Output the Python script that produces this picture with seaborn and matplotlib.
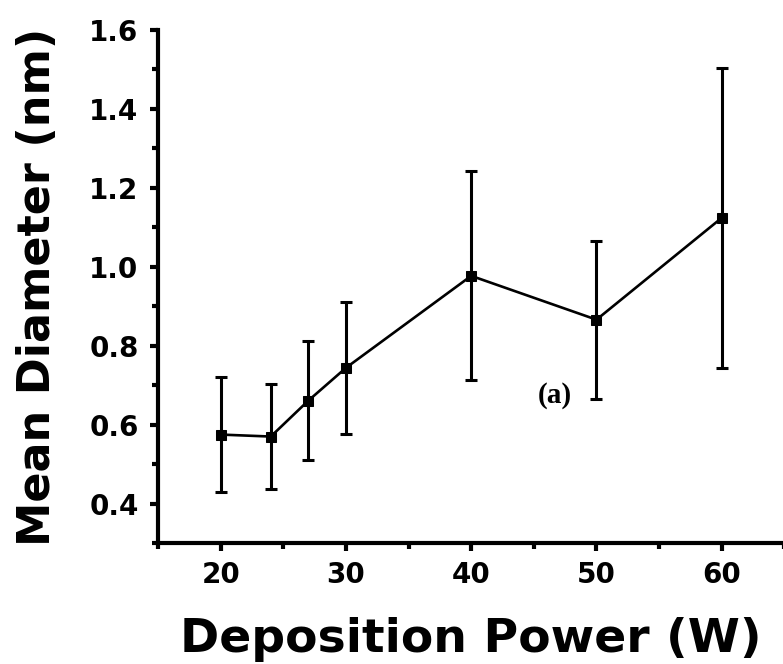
import matplotlib
matplotlib.use("Agg")
import matplotlib.pyplot as plt
import seaborn as sns
import pandas as pd
from matplotlib.ticker import MultipleLocator

power = [20, 24, 27, 30, 40, 50, 60]
diameter = [0.575, 0.570, 0.661, 0.744, 0.977, 0.866, 1.124]
err = [0.145, 0.132, 0.150, 0.168, 0.265, 0.200, 0.380]
xticks = [20, 30, 40, 50, 60]
yticks = [0.4, 0.6, 0.8, 1.0, 1.2, 1.4, 1.6]
yticklabels = ["0.4", "0.6", "0.8", "1.0", "1.2", "1.4", "1.6"]

df = pd.DataFrame({"power": power, "diameter": diameter, "err": err})

sns.set_theme(style="ticks")
plt.rcParams['font.family'] = ['DejaVu Sans']
plt.rcParams.update({'text.color': 'black', 'axes.labelcolor': 'black',
                     'xtick.color': 'black', 'ytick.color': 'black'})

fig = plt.figure(figsize=(7.83, 6.64), dpi=100)
ax = fig.add_axes([0.2018, 0.182, 0.80, 0.773])

ax.errorbar(df["power"], df["diameter"], yerr=df["err"], fmt='none',
            ecolor='black', elinewidth=2.2, capsize=4.5, capthick=2.2, zorder=2)
sns.lineplot(data=df, x="power", y="diameter", ax=ax, color='black',
             marker='s', markersize=7, linewidth=1.9, markeredgecolor='black', zorder=3)

ax.set_xlim(15, 65)
ax.set_ylim(0.3, 1.6)
ax.xaxis.set_minor_locator(MultipleLocator(5))
ax.yaxis.set_minor_locator(MultipleLocator(0.1))
ax.set_xticks(xticks)
ax.set_yticks(yticks)
ax.set_yticklabels(yticklabels)

for s in ['top', 'right']:
    ax.spines[s].set_visible(False)
for s in ['left', 'bottom']:
    ax.spines[s].set_linewidth(3)
    ax.spines[s].set_color('black')

ax.tick_params(which='major', direction='out', length=6, width=3, labelsize=20)
ax.tick_params(axis='x', which='major', pad=7)
ax.tick_params(axis='y', which='major', pad=8)
ax.tick_params(which='minor', direction='out', length=4, width=3)
for lab in ax.get_xticklabels() + ax.get_yticklabels():
    lab.set_fontweight('bold')

ax.set_xlabel("Deposition Power (W)", fontsize=34, fontweight='bold', labelpad=20)
ax.set_ylabel("Mean Diameter (nm)", fontsize=32, fontweight='bold', labelpad=22)

ax.text(45.3, 0.673, "(a)", fontsize=21, fontweight='bold', family='Liberation Serif',
        color='black', va='center', ha='left')

fig.savefig("out.png", dpi=100)
